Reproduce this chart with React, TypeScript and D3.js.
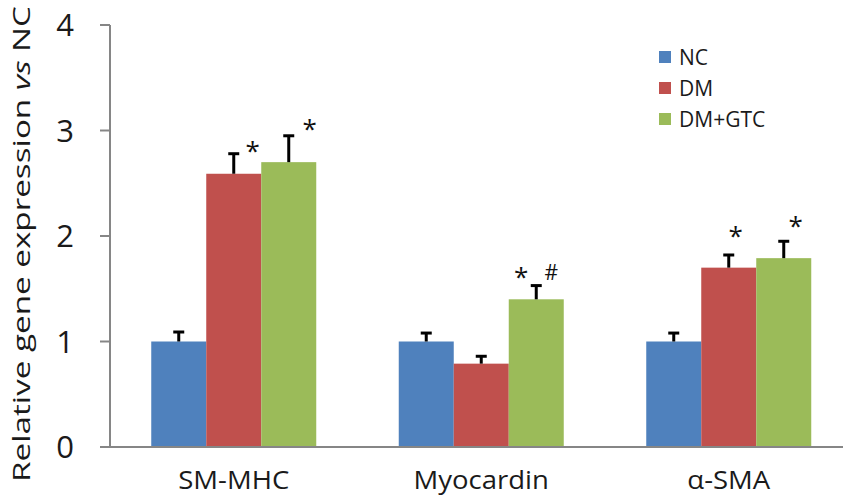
import React from "react";
import * as d3 from "d3";

const categories = ["SM-MHC", "Myocardin", "α-SMA"];
const seriesNames = ["NC", "DM", "DM+GTC"];
const ncValues = [1.0, 1.0, 1.0];
const dmValues = [2.59, 0.79, 1.7];
const gtcValues = [2.7, 1.4, 1.79];
const ncErrors = [0.09, 0.08, 0.08];
const dmErrors = [0.19, 0.07, 0.12];
const gtcErrors = [0.25, 0.13, 0.16];
const yTicks = [0, 1, 2, 3, 4];
// significance marks: [category index, series index, label]
const marks: [number, number, string][] = [
  [0, 1, "*"],
  [0, 2, "*"],
  [1, 2, "*"],
  [1, 2, "#"],
  [2, 1, "*"],
  [2, 2, "*"],
];
// layout offsets for marks (dx from bar center, dy from error top)
const markOffsets: [number, number][] = [
  [19, 6],
  [21, 10],
  [-15, 12],
  [15, 13],
  [7, 22],
  [12, 18],
];

const colors = ["#4F81BD", "#C0504D", "#9BBB59"];
const FONT = "'Open Sans', 'Noto Sans', sans-serif";

export default function App() {
  const W = 843;
  const H = 502;
  const x0 = 110;
  const y0 = 447;
  const x = d3
    .scaleBand<string>()
    .domain(categories)
    .range([x0, 852.5])
    .paddingInner(1 / 3)
    .paddingOuter(1 / 6);
  const xs = d3
    .scaleBand<string>()
    .domain(seriesNames)
    .range([0, x.bandwidth()]);
  const y = d3.scaleLinear().domain([0, 4]).range([y0, 25]);
  const values = [ncValues, dmValues, gtcValues];
  const errors = [ncErrors, dmErrors, gtcErrors];
  const axisColor = "#868686";

  return (
    <svg
      width={W}
      height={H}
      style={{ position: "absolute", left: 0, top: 0, background: "#fff" }}
      fontFamily={FONT}
    >
      {/* bars */}
      {categories.map((c, ci) =>
        seriesNames.map((s, si) => {
          const bx = (x(c) as number) + (xs(s) as number);
          const v = values[si][ci];
          return (
            <rect
              key={c + s}
              x={bx}
              y={y(v)}
              width={xs.bandwidth()}
              height={y0 - y(v)}
              fill={colors[si]}
            />
          );
        })
      )}
      {/* error bars */}
      {categories.map((c, ci) =>
        seriesNames.map((s, si) => {
          const cx = (x(c) as number) + (xs(s) as number) + xs.bandwidth() / 2;
          const v = values[si][ci];
          const e = errors[si][ci];
          return (
            <g key={"e" + c + s} stroke="#000" strokeWidth={3}>
              <line x1={cx} x2={cx} y1={y(v)} y2={y(v + e)} />
              <line x1={cx - 5.5} x2={cx + 5.5} y1={y(v + e)} y2={y(v + e)} />
            </g>
          );
        })
      )}
      {/* significance marks */}
      {marks.map(([ci, si, lab], i) => {
        const cx =
          (x(categories[ci]) as number) +
          (xs(seriesNames[si]) as number) +
          xs.bandwidth() / 2;
        const top = y(values[si][ci] + errors[si][ci]);
        const [dx, dy] = markOffsets[i];
        return (
          <text
            key={"m" + i}
            x={cx + dx}
            y={top - dy + (lab === "*" ? 12 : 7)}
            textAnchor="middle"
            fontSize={lab === "*" ? 26 : 21}
            fill="#111"
          >
            {lab}
          </text>
        );
      })}
      {/* y axis */}
      <line x1={x0} x2={x0} y1={y(4)} y2={y0} stroke={axisColor} strokeWidth={2} />
      {yTicks.map((t) => (
        <g key={"t" + t}>
          <line x1={x0 - 10} x2={x0} y1={y(t)} y2={y(t)} stroke={axisColor} strokeWidth={2} />
          <text
            x={74}
            y={y(t)}
            dy="0.36em"
            textAnchor="end"
            fontSize={31}
            fill="#1a1a1a"
          >
            {t}
          </text>
        </g>
      ))}
      {/* x axis */}
      <line x1={x0 - 10} x2={W} y1={y0} y2={y0} stroke={axisColor} strokeWidth={2} />
      {categories.map((c) => (
        <text
          key={"x" + c}
          transform={`translate(${(x(c) as number) + x.bandwidth() / 2},489) scale(1.1,1)`}
          textAnchor="middle"
          fontSize={25}
          fill="#1a1a1a"
        >
          {c}
        </text>
      ))}
      {/* y label */}
      <text
        transform={`translate(30,244) rotate(-90)`}
        textAnchor="middle"
        fontSize={24}
        fill="#1a1a1a"
        textLength={476}
        lengthAdjust="spacingAndGlyphs"
      >
        Relative gene expression <tspan fontStyle="italic">vs</tspan> NC
      </text>
      {/* legend */}
      {seriesNames.map((s, i) => (
        <g key={"l" + s} transform={`translate(659, ${57 + i * 31})`}>
          <rect x={0} y={-6} width={12} height={12} fill={colors[i]} />
          <text x={20} y={0} dy="0.36em" fontSize={21} fill="#1a1a1a">
            {s}
          </text>
        </g>
      ))}
    </svg>
  );
}
